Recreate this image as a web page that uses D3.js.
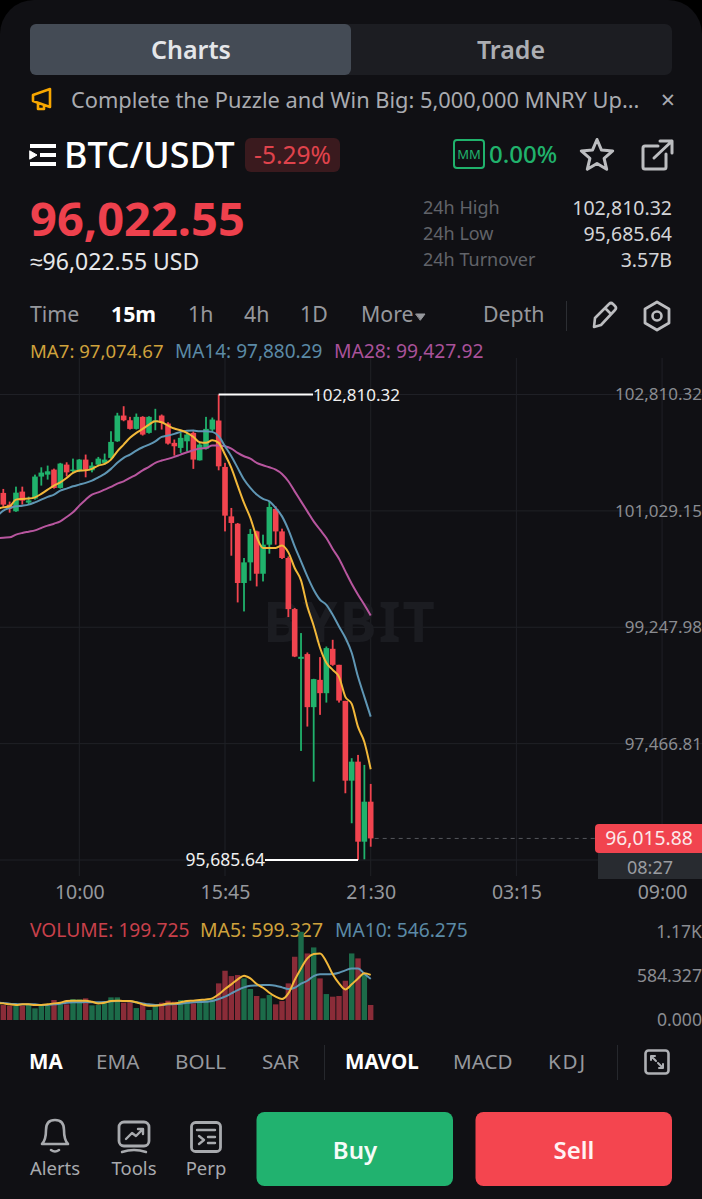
<!DOCTYPE html>
<html>
<head>
<meta charset="utf-8">
<script src="https://cdn.jsdelivr.net/npm/d3@7"></script>
<style>
  html, body { margin: 0; padding: 0; background: #000; }
  svg { display: block; }
  text { font-family: "Noto Sans", sans-serif; }
</style>
</head>
<body>
<svg id="chart" width="702" height="1199"></svg>
<script>
// BTC/USDT 15m candles (first one sits just off the left edge)
const candleOpen = [101230,101304,101125,101023,101324,101155,101217,101554,101584,101661,101380,101737,101638,101635,101814,101650,101737,101764,101840,102094,102488,102416,102284,102468,102223,102396,102488,102366,102070,101993,102094,102223,101803,101978,102274,102412,101702,100945,100833,99925,100241,100715,100067,100512,101059,100715,100308,99526,98765,98837,98025,98443,98239,98918,98673,98121,96900,97191,95966,96578];
const candleHigh = [101320,101365,101171,101400,101400,101247,101584,101696,101722,101676,101764,101773,101829,101822,101891,101773,101855,101906,102248,102530,102631,102468,102519,102478,102478,102591,102504,102386,102121,102223,102223,102248,102070,102468,102458,102810.32,101764,101074,100844,100308,100752,100726,100665,101175,101099,100757,100332,99542,99159,98862,98459,98791,98953,99056,98673,98121,97244,97294,97141,96850];
const candleLow = [101150,101089,101002,101015,101125,101125,101201,101416,101508,101370,101370,101558,101615,101623,101543,101619,101722,101737,101825,102085,102401,102274,102274,102182,102212,102263,102274,102044,101875,101917,101941,101672,101799,101967,102248,101650,100715,100343,99628,99490,99960,99873,99949,100374,100512,100293,99404,98791,97355,97728,96885,97907,98095,98658,98095,96707,96248,95685.64,95696,95889];
const candleClose = [101300,101125,101063,101308,101186,101190,101554,101615,101635,101380,101753,101619,101661,101814,101661,101722,101829,101814,102085,102488,102416,102284,102468,102197,102468,102416,102376,102059,102018,102147,102197,101814,102044,102284,102427,101711,100956,100844,99925,100241,100676,100067,100512,101089,100715,100308,99526,98800,98796,98025,98454,98239,98929,98673,98126,96900,97191,95966,96578,96015.88];

const ma7 = [101060,101083,101099,101201,101212,101217,101236,101289,101354,101416,101466,101534,101610,101646,101650,101672,101722,101748,101814,101941,102044,102147,102223,102284,102350,102401,102386,102335,102289,102263,102223,102162,102079,102070,102110,102070,101891,101687,101416,101151,100921,100630,100461,100461,100461,100501,100394,100155,99965,99566,99271,98934,98704,98596,98489,98183,98076,97723,97493,97074.67];
const ma14 = [100945,101033,101074,101099,101109,101125,101160,101201,101243,101278,101339,101370,101405,101431,101457,101492,101543,101595,101672,101764,101840,101891,101952,102003,102044,102094,102162,102182,102208,102238,102254,102258,102248,102248,102238,102171,102018,101865,101687,101508,101380,101278,101212,101175,101074,100945,100742,100486,100256,100026,99822,99669,99592,99439,99260,99087,98857,98489,98183,97880.29];
const ma28 = [100610,100619,100624,100665,100691,100711,100731,100768,100803,100833,100869,100936,101007,101109,101201,101278,101313,101354,101396,101446,101482,101534,101584,101650,101702,101764,101799,101825,101855,101891,101926,101957,101983,101993,102029,102029,102018,101983,101917,101865,101829,101764,101727,101696,101661,101595,101482,101328,101175,101022,100869,100742,100614,100446,100297,100103,99914,99746,99592,99427.92];

const volume = [190,199,190,190,190,199,155,212,190,266,208,208,279,274,288,195,199,239,301,301,230,235,159,230,133,199,230,257,243,266,266,221,266,279,279,487,655,584,598,553,412,319,288,332,208,252,487,841,1173,885,965,553,345,310,319,522,885,819,620,199.725];
const volMa5 = [226,221,208,199,208,208,199,199,208,221,230,252,257,257,257,243,221,230,252,257,252,252,235,208,190,190,199,221,221,235,252,257,266,274,288,341,412,474,540,589,553,478,429,363,310,279,354,531,686,819,877,885,775,607,487,407,474,553,620,599.327];
const volMa10 = [232,226,217,212,208,208,208,199,199,208,217,230,235,235,239,235,235,239,248,252,252,248,235,221,208,199,199,208,212,217,230,235,239,243,252,279,310,354,398,434,456,460,465,465,456,434,412,429,483,522,584,607,607,611,629,660,686,686,615,546.275];

const priceTicks = [102810.32, 101029.15, 99247.98, 97466.81, 95685.64];
const volumeTicks = [0, 584.327, 1170];
const timeTickIndex = [13, 36, 59, 82, 105];
const timeTickLabels = ["10:00", "15:45", "21:30", "03:15", "09:00"];

const stats = [["24h High", "102,810.32"], ["24h Low", "95,685.64"], ["24h Turnover", "3.57B"]];
const intervals = [["Time", 30], ["15m", 111], ["1h", 188], ["4h", 244], ["1D", 300], ["More", 361], ["Depth", 483]];
const indicatorTabs = [["MA", 29], ["EMA", 96], ["BOLL", 175], ["SAR", 262], ["MAVOL", 345], ["MACD", 453], ["KDJ", 548]];

const RED = "#f1444f", GREEN = "#20b26c", YELLOW = "#f2b83a", BLUE = "#5f96b4", PINK = "#b8569f";

const svg = d3.select("#chart");

const x = d3.scaleLinear().domain([0, 59]).range([-3.03, 370.7]);
const y = d3.scaleLinear().domain([95685.64, 102810.32]).range([860, 394.5]);
const yVol = d3.scaleLinear().domain([0, 1170]).range([1020, 932]);

const label = (s, px, py, size, fill, opts = {}) =>
  svg.append("text")
    .attr("x", px).attr("y", py)
    .attr("dy", "0.36em")
    .attr("font-size", size)
    .attr("fill", fill)
    .attr("font-weight", opts.weight || 400)
    .attr("text-anchor", opts.anchor || "start")
    .attr("letter-spacing", opts.spacing || null)
    .text(s);

const icon = (d, stroke, width = 2.5, fill = "none") =>
  svg.append("path").attr("d", d).attr("fill", fill).attr("stroke", stroke)
    .attr("stroke-width", width).attr("stroke-linejoin", "round").attr("stroke-linecap", "round");

// card
svg.append("rect").attr("width", 702).attr("height", 1240).attr("rx", 34).attr("fill", "#101014");

// top tabs
svg.append("rect").attr("x", 30).attr("y", 24).attr("width", 642).attr("height", 51).attr("rx", 7).attr("fill", "#1c1d22");
svg.append("rect").attr("x", 30).attr("y", 24).attr("width", 321).attr("height", 51).attr("rx", 6).attr("fill", "#444b55");
label("Charts", 191, 50, 25, "#e4e6e9", { weight: 600, anchor: "middle" });
label("Trade", 511, 50, 25, "#acaeb3", { weight: 600, anchor: "middle" });

// announcement row
icon("M33 95 L50 89 L50 107 L33 101 Z M38 103 L38 109 L44 109 L44 105", "#f7a600", 2.6);
label("Complete the Puzzle and Win Big: 5,000,000 MNRY Up...", 71, 100, 21.8, "#a9abb0");
label("×", 668, 100, 25, "#a9abb0", { anchor: "middle" });

// symbol row
svg.append("rect").attr("x", 30).attr("y", 144).attr("width", 26).attr("height", 4).attr("fill", "#fff");
svg.append("rect").attr("x", 30).attr("y", 162).attr("width", 26).attr("height", 4).attr("fill", "#fff");
svg.append("rect").attr("x", 40).attr("y", 153).attr("width", 16).attr("height", 4).attr("fill", "#fff");
icon("M30 151 L37 155 L30 159 Z", "#fff", 1, "#fff");
label("BTC/USDT", 64, 155, 35.8, "#fff", { weight: 500 });
svg.append("rect").attr("x", 245).attr("y", 138).attr("width", 95).attr("height", 34).attr("rx", 6).attr("fill", "#3a1a1e");
label("-5.29%", 292.5, 155, 24.5, "#e0434c", { anchor: "middle" });
svg.append("rect").attr("x", 454).attr("y", 140).attr("width", 30).attr("height", 28).attr("rx", 3)
  .attr("fill", "none").attr("stroke", GREEN).attr("stroke-width", 2);
label("MM", 469, 154, 13, GREEN, { anchor: "middle" });
label("0.00%", 489, 154, 24, GREEN, { weight: 500 });
icon(d3.range(10).map(i => {
  const r = i % 2 ? 7.5 : 16.5, a = -Math.PI / 2 + i * Math.PI / 5;
  return (i ? "L" : "M") + (597 + r * Math.cos(a)).toFixed(1) + " " + (156 + r * Math.sin(a)).toFixed(1);
}).join(" ") + " Z", "#bcbdc0", 3);
icon("M658 146 L645 146 Q643 146 643 148 L643 167 Q643 169 645 169 L664 169 Q666 169 666 167 L666 154 M654 158 L672 141 M660 141 L672 141 L672 153", "#bcbdc0", 3);

// price block
label("96,022.55", 30, 219, 47, "#ee414d", { weight: 700 });
label("≈96,022.55 USD", 30, 262, 23, "#e6e7e9");
stats.forEach(([name, value], i) => {
  label(name, 423, 208 + i * 26, 18, "#616369");
  label(value, 672, 208 + i * 26, 19.5, "#d3d4d7", { anchor: "end" });
});

// interval bar
intervals.forEach(([name, px]) => {
  label(name, px, 314, 21.3, name === "15m" ? "#fff" : "#96989d", { weight: name === "15m" ? 700 : 400 });
});
icon("M416 314 L425 314 L420.5 320 Z", "#96989d", 1, "#96989d");
svg.append("rect").attr("x", 566).attr("y", 301).attr("width", 1).attr("height", 30).attr("fill", "#2c2e33");
icon("M594 327 L595 318 L609 304 Q611 302 613 304 L615 306 Q617 308 615 310 L601 325 Z M605 308 L611 314", "#bcbdc0", 2.6);
icon("M657 302 L669 309 L669 323 L657 330 L645 323 L645 309 Z", "#bcbdc0", 2.8);
svg.append("circle").attr("cx", 657).attr("cy", 316).attr("r", 4.5).attr("fill", "none").attr("stroke", "#bcbdc0").attr("stroke-width", 2.6);

// MA legend
label("MA7: 97,074.67", 30, 351, 18.6, "#cfa23c");
label("MA14: 97,880.29", 175, 351, 19, "#5b8aa6");
label("MA28: 99,427.92", 334, 351, 19.3, "#a9529a");

// grid
const grid = svg.append("g").attr("stroke", "#1f2026").attr("stroke-width", 1);
priceTicks.forEach(t => {
  grid.append("line").attr("x1", 0).attr("x2", 702).attr("y1", y(t)).attr("y2", y(t));
});
timeTickIndex.forEach(t => {
  grid.append("line").attr("x1", x(t)).attr("x2", x(t)).attr("y1", 358).attr("y2", 876);
});

// watermark
label("BYBIT", 350, 622, 56, "#1b1c21", { weight: 700, anchor: "middle", spacing: 2 });

// candles
const candleData = d3.range(candleOpen.length).map(i => ({
  i, o: candleOpen[i], h: candleHigh[i], l: candleLow[i], c: candleClose[i]
}));
const colorOf = d => (d.c < d.o ? RED : GREEN);
const candle = svg.append("g").selectAll("g").data(candleData).join("g").attr("fill", colorOf);
candle.append("rect")
  .attr("x", d => x(d.i) - 0.9).attr("width", 1.8)
  .attr("y", d => y(d.h)).attr("height", d => y(d.l) - y(d.h));
candle.append("rect")
  .attr("x", d => x(d.i) - 2.8).attr("width", 5.6)
  .attr("y", d => y(Math.max(d.o, d.c)))
  .attr("height", d => Math.max(1.4, Math.abs(y(d.o) - y(d.c))));

const priceLine = d3.line().x((d, i) => x(i)).y(d => y(d)).curve(d3.curveMonotoneX);
[[ma28, PINK], [ma14, BLUE], [ma7, YELLOW]].forEach(([s, color]) => {
  svg.append("path").attr("d", priceLine(s)).attr("fill", "none").attr("stroke", color).attr("stroke-width", 2);
});

// high / low markers
const highX = x(candleHigh.indexOf(d3.max(candleHigh)));
const lowX = x(candleLow.indexOf(d3.min(candleLow)));
svg.append("line").attr("x1", highX).attr("x2", 313).attr("y1", y(priceTicks[0])).attr("y2", y(priceTicks[0])).attr("stroke", "#fff").attr("stroke-width", 2);
label("102,810.32", 313, y(priceTicks[0]), 17, "#f0f0f0");
svg.append("line").attr("x1", 265).attr("x2", lowX).attr("y1", y(priceTicks[4])).attr("y2", y(priceTicks[4])).attr("stroke", "#fff").attr("stroke-width", 2);
label("95,685.64", 265, y(priceTicks[4]), 17.5, "#f0f0f0", { anchor: "end" });

// price axis
const yAxis = svg.append("g").attr("transform", "translate(702,0)")
  .call(d3.axisLeft(y).tickValues(priceTicks).tickSize(0).tickPadding(0).tickFormat(d3.format(",.2f")));
yAxis.select(".domain").remove();
yAxis.selectAll("text").attr("font-size", 17).attr("fill", "#8a8c91").attr("font-family", "Noto Sans");

// time axis
const xAxis = svg.append("g").attr("transform", "translate(0,885)")
  .call(d3.axisBottom(x).tickValues(timeTickIndex).tickSize(0).tickPadding(0).tickFormat((d, i) => timeTickLabels[i]));
xAxis.select(".domain").remove();
xAxis.selectAll("text").attr("font-size", 19.5).attr("fill", "#96989d").attr("font-family", "Noto Sans");

// last price tag
const last = candleClose[candleClose.length - 1];
svg.append("line").attr("x1", x(59) + 4).attr("x2", 595).attr("y1", y(last)).attr("y2", y(last))
  .attr("stroke", "#55575c").attr("stroke-dasharray", "4 4");
svg.append("rect").attr("x", 598).attr("y", 853).attr("width", 110).attr("height", 26).attr("fill", "#282b30");
label("08:27", 650, 867.5, 18, "#9a9ca0", { anchor: "middle" });
svg.append("rect").attr("x", 595).attr("y", 824).attr("width", 115).attr("height", 29).attr("rx", 4).attr("fill", RED);
label(d3.format(",.2f")(last), 649, 838.5, 19.3, "#fbe9ea", { anchor: "middle" });

// volume panel
label("VOLUME: 199.725", 30, 930, 19.2, "#c8404b");
label("MA5: 599.327", 200, 930, 19.4, "#cfa23c");
label("MA10: 546.275", 335, 930, 19.2, "#5b8aa6");

svg.append("g").selectAll("rect").data(candleData).join("rect")
  .attr("x", d => x(d.i) - 2.7).attr("width", 5.4)
  .attr("y", d => yVol(volume[d.i]))
  .attr("height", d => yVol(0) - yVol(volume[d.i]))
  .attr("fill", d => (d.c < d.o ? "#8a2c38" : "#1c6b49"));

const volLine = d3.line().x((d, i) => x(i)).y(d => yVol(d)).curve(d3.curveMonotoneX);
[[volMa10, BLUE], [volMa5, YELLOW]].forEach(([s, color]) => {
  svg.append("path").attr("d", volLine(s)).attr("fill", "none").attr("stroke", color).attr("stroke-width", 2);
});

const volAxis = svg.append("g").attr("transform", "translate(702,0)")
  .call(d3.axisLeft(yVol).tickValues(volumeTicks).tickSize(0).tickPadding(0)
    .tickFormat(d => (d >= 1000 ? "1.17K" : d3.format(".3f")(d))));
volAxis.select(".domain").remove();
volAxis.selectAll("text").attr("font-size", 17.6).attr("fill", "#8a8c91").attr("font-family", "Noto Sans");

// indicator tabs
indicatorTabs.forEach(([name, px]) => {
  const on = name === "MA" || name === "MAVOL";
  label(name, px, 1062, 20.6, on ? "#fff" : "#96989d", { weight: on ? 700 : 400, spacing: name === "KDJ" ? 1.8 : null });
});
[324, 617].forEach(px => {
  svg.append("rect").attr("x", px).attr("y", 1045).attr("width", 1).attr("height", 35).attr("fill", "#26282d");
});
svg.append("rect").attr("x", 645.5).attr("y", 1050.5).attr("width", 23).attr("height", 23).attr("rx", 3)
  .attr("fill", "none").attr("stroke", "#aeb0b4").attr("stroke-width", 2.6);
icon("M651 1060 L651 1056 L655 1056 M651 1056 L656 1061 M663 1064 L663 1068 L659 1068 M663 1068 L658 1063", "#aeb0b4", 2);

// bottom nav
icon("M42 1144 Q46 1140 46 1130 Q46 1120 55 1120 Q64 1120 64 1130 Q64 1140 68 1144 Z M51 1150 Q55 1153 59 1150", "#a8aaae", 2.6);
svg.append("rect").attr("x", 119).attr("y", 1122).attr("width", 30).attr("height", 24).attr("rx", 5)
  .attr("fill", "none").attr("stroke", "#a8aaae").attr("stroke-width", 2.8);
icon("M126 1139 L132 1133 L136 1136 L143 1129 M138 1129 L143 1129 L143 1134", "#a8aaae", 2.4);
icon("M122 1152 Q134 1148 146 1152", "#a8aaae", 2.4);
svg.append("rect").attr("x", 191.5).attr("y", 1122.5).attr("width", 29).attr("height", 29).attr("rx", 4)
  .attr("fill", "none").attr("stroke", "#a8aaae").attr("stroke-width", 2.8);
icon("M197 1130 L215 1130 M199 1136 L204 1140 L199 1144 M208 1137 L215 1137 M208 1143 L215 1143", "#a8aaae", 2.4);
label("Alerts", 55, 1168, 18.5, "#a8aaae", { anchor: "middle" });
label("Tools", 134, 1168, 18.5, "#a8aaae", { anchor: "middle" });
label("Perp", 206, 1168, 18.5, "#a8aaae", { anchor: "middle" });

svg.append("rect").attr("x", 256.5).attr("y", 1112).attr("width", 196.5).attr("height", 74).attr("rx", 8).attr("fill", "#21b26f");
svg.append("rect").attr("x", 475.5).attr("y", 1112).attr("width", 196.5).attr("height", 74).attr("rx", 8).attr("fill", "#f4454f");
label("Buy", 355, 1150, 24, "#f6fbf8", { weight: 600, anchor: "middle" });
label("Sell", 574, 1150, 24, "#fff2f3", { weight: 600, anchor: "middle" });
</script>
</body>
</html>
